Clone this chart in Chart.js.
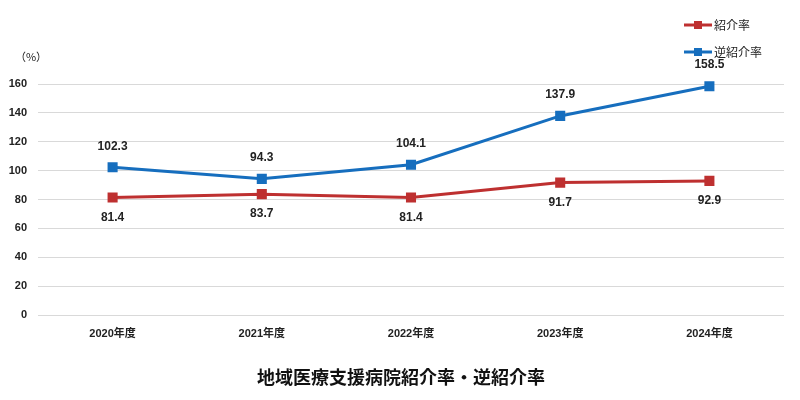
<!DOCTYPE html>
<html>
<head>
<meta charset="utf-8">
<script src="https://cdn.jsdelivr.net/npm/chart.js@4"></script>
<style>
  body { margin: 0; background: #fff; }
  #wrap { width: 800px; height: 400px; }
</style>
</head>
<body>
<div id="wrap"><canvas id="rateChart" width="800" height="400"></canvas></div>
<script>
// data
const years = ['2020年度', '2021年度', '2022年度', '2023年度', '2024年度'];
const shokaiRate = [81.4, 83.7, 81.4, 91.7, 92.9];
const gyakuRate = [102.3, 94.3, 104.1, 137.9, 158.5];
const yTicks = [0, 20, 40, 60, 80, 100, 120, 140, 160];
const seriesNames = ['紹介率', '逆紹介率'];
const chartTitle = '地域医療支援病院紹介率・逆紹介率';

const RED = 'rgb(190, 48, 48)';
const BLUE = 'rgb(22, 110, 190)';
const numFont = 'bold 12px "Liberation Sans", Arial, sans-serif';
const jpFont = '"Noto Sans CJK JP", sans-serif';

// value labels, legend, unit and title drawn on the canvas
const extras = {
    id: 'extras',
    afterDatasetsDraw(chart) {
        const ctx = chart.ctx;
        ctx.save();
        ctx.font = numFont;
        ctx.fillStyle = '#222';
        ctx.textAlign = 'center';
        ctx.textBaseline = 'middle';
        chart.getDatasetMeta(0).data.forEach(function (pt, i) {
            ctx.fillText(shokaiRate[i].toFixed(1), pt.x, pt.y + 20);
        });
        chart.getDatasetMeta(1).data.forEach(function (pt, i) {
            ctx.fillText(gyakuRate[i].toFixed(1), pt.x, pt.y - 21);
        });

        // unit
        ctx.font = '11px ' + jpFont;
        ctx.fillText('（%）', 31, 57);

        // legend stacked top right
        const colors = [RED, BLUE];
        const rows = [25, 52];
        ctx.textAlign = 'left';
        for (let i = 0; i < 2; i++) {
            const y = rows[i];
            ctx.strokeStyle = colors[i];
            ctx.lineWidth = 3;
            ctx.beginPath();
            ctx.moveTo(684, y);
            ctx.lineTo(712, y);
            ctx.stroke();
            ctx.fillStyle = colors[i];
            ctx.fillRect(694, y - 4, 8, 8);
            ctx.fillStyle = '#222';
            ctx.font = '12px ' + jpFont;
            ctx.fillText(seriesNames[i], 714, y);
        }

        // title
        ctx.textAlign = 'center';
        ctx.font = 'bold 18px ' + jpFont;
        ctx.fillStyle = '#111';
        ctx.fillText(chartTitle, 401, 377);
        ctx.restore();
    }
};

const ctx = document.getElementById('rateChart').getContext('2d');
new Chart(ctx, {
    type: 'line',
    data: {
        labels: years,
        datasets: [{
            label: seriesNames[0],
            data: shokaiRate,
            borderColor: RED,
            backgroundColor: RED,
            borderWidth: 3,
            pointStyle: 'rect',
            pointRadius: 5,
            pointHoverRadius: 5,
            clip: false,
            tension: 0
        }, {
            label: seriesNames[1],
            data: gyakuRate,
            borderColor: BLUE,
            backgroundColor: BLUE,
            borderWidth: 3,
            pointStyle: 'rect',
            pointRadius: 5,
            pointHoverRadius: 5,
            clip: false,
            tension: 0
        }]
    },
    options: {
        responsive: false,
        animation: false,
        layout: {
            padding: { top: 84, right: 16, left: 0, bottom: 0 }
        },
        plugins: {
            legend: { display: false },
            title: { display: false },
            tooltip: { enabled: false }
        },
        scales: {
            x: {
                offset: true,
                grid: { display: false },
                border: { display: false },
                ticks: {
                    color: '#222',
                    padding: 4,
                    font: { size: 11, weight: 'bold', family: '"Liberation Sans Narrow", "Liberation Sans", "Noto Sans CJK JP", sans-serif' }
                },
                afterFit(scale) { scale.height = 85; }
            },
            y: {
                min: 0,
                max: 160,
                afterBuildTicks(scale) {
                    scale.ticks = yTicks.map(function (v) { return { value: v }; });
                },
                grid: { color: '#d9d9d9', lineWidth: 1, drawTicks: false },
                border: { display: false },
                ticks: {
                    color: '#222',
                    padding: 11,
                    font: { size: 11, weight: 'bold', family: '"Liberation Sans", Arial, sans-serif' }
                },
                afterFit(scale) { scale.width = 38; }
            }
        }
    },
    plugins: [extras]
});
</script>
</body>
</html>
